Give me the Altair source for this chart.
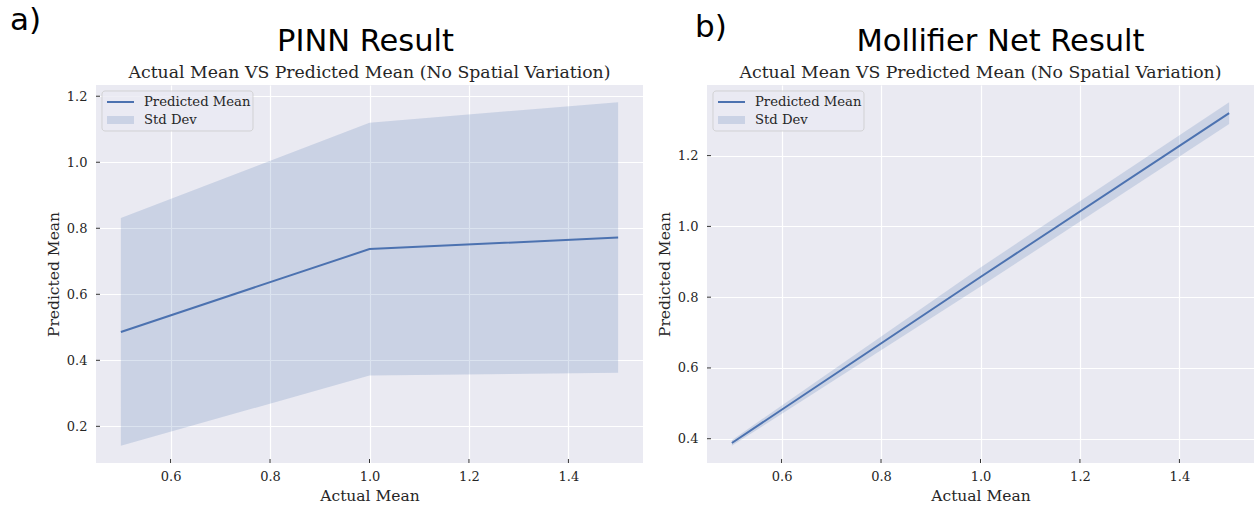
import altair as alt
import pandas as pd

# ---------------- data ----------------
x_vals = [0.5, 1.0, 1.5]
pinn_mean = [0.486, 0.737, 0.772]
pinn_std = [0.345, 0.383, 0.410]
moll_mean = [0.388, 0.857, 1.320]
moll_std = [0.008, 0.027, 0.031]

x_ticks = [0.6, 0.8, 1.0, 1.2, 1.4]
pinn_y_ticks = [0.2, 0.4, 0.6, 0.8, 1.0, 1.2]
moll_y_ticks = [0.4, 0.6, 0.8, 1.0, 1.2]

panel_letters = ["a)", "b)"]
panel_titles = ["PINN Result", "Mollifier Net Result"]
subtitle = "Actual Mean VS Predicted Mean (No Spatial Variation)"
legend_labels = ["Predicted Mean", "Std Dev"]
x_title = "Actual Mean"
y_title = "Predicted Mean"

# ---------------- style ----------------
BLUE = "#4C72B0"
BG = "#EAEAF2"
TXT = "#262626"
W, H = 547, 378
SERIF = "DejaVu Serif"
SANS = "DejaVu Sans"


def padded(lo, hi, frac=0.05):
    r = hi - lo
    return [lo - frac * r, hi + frac * r]


def panel(mean, std, yticks, letter, title, letter_x, letter_y, title_dx):
    lo = [m - s for m, s in zip(mean, std)]
    hi = [m + s for m, s in zip(mean, std)]
    df = pd.DataFrame({"x": x_vals, "mean": mean, "lo": lo, "hi": hi})
    xs = alt.Scale(domain=padded(min(x_vals), max(x_vals)), nice=False, zero=False)
    ys = alt.Scale(domain=padded(min(lo), max(hi)), nice=False, zero=False)
    xaxis = alt.Axis(values=x_ticks, format=".1f", title=x_title)
    yaxis = alt.Axis(values=yticks, format=".1f", title=y_title)

    band = alt.Chart(df).mark_area(color=BLUE, opacity=0.2).encode(
        x=alt.X("x:Q", scale=xs, axis=xaxis),
        y=alt.Y("lo:Q", scale=ys, axis=yaxis),
        y2="hi:Q",
    )
    line = alt.Chart(df).mark_line(color=BLUE, strokeWidth=2).encode(
        x=alt.X("x:Q", scale=xs, axis=xaxis),
        y=alt.Y("mean:Q", scale=ys, axis=yaxis),
    )
    # inward tick marks (matplotlib style), positioned by the scales
    xt = alt.Chart(pd.DataFrame({"x": x_ticks})).mark_rule(color="#333333", strokeWidth=1).encode(
        x=alt.X("x:Q", scale=xs, axis=xaxis),
        y=alt.value(H - 4),
        y2=alt.value(H),
    )
    yt = alt.Chart(pd.DataFrame({"lo": yticks})).mark_rule(color="#333333", strokeWidth=1).encode(
        y=alt.Y("lo:Q", scale=ys, axis=yaxis),
        x=alt.value(0),
        x2=alt.value(4),
    )

    # legend drawn in the axes corner
    ldf = pd.DataFrame({"label": legend_labels})
    first = f"datum.label == '{legend_labels[0]}'"
    second = f"datum.label == '{legend_labels[1]}'"
    box = alt.Chart(ldf).transform_filter(first).mark_rect(
        fill=BG, fillOpacity=0.8, stroke="#cccccc", strokeOpacity=0.8,
        strokeWidth=1, cornerRadius=3,
    ).encode(x=alt.value(6), x2=alt.value(157), y=alt.value(6), y2=alt.value(46))
    leg_line = alt.Chart(ldf).transform_filter(first).mark_rule(
        color=BLUE, strokeWidth=2
    ).encode(x=alt.value(11), x2=alt.value(38), y=alt.value(17))
    leg_patch = alt.Chart(ldf).transform_filter(second).mark_rect(
        color=BLUE, opacity=0.2
    ).encode(x=alt.value(11), x2=alt.value(38), y=alt.value(31), y2=alt.value(39))
    leg_t1 = alt.Chart(ldf).transform_filter(first).mark_text(
        align="left", baseline="middle", font=SERIF, fontSize=13.2, color=TXT
    ).encode(text="label:N", x=alt.value(48), y=alt.value(17))
    leg_t2 = alt.Chart(ldf).transform_filter(second).mark_text(
        align="left", baseline="middle", font=SERIF, fontSize=13.2, color=TXT
    ).encode(text="label:N", x=alt.value(48), y=alt.value(35))

    # panel letter, panel title and subtitle (placed relative to the plot area)
    tdf = pd.DataFrame({"letter": [letter], "title": [title], "sub": [subtitle]})
    letter_t = alt.Chart(tdf).mark_text(
        align="left", baseline="alphabetic", font=SANS, fontSize=31, color="black"
    ).encode(text="letter:N", x=alt.value(letter_x), y=alt.value(letter_y))
    title_t = alt.Chart(tdf).mark_text(
        align="center", baseline="alphabetic", font=SANS, fontSize=30.5, color="black"
    ).encode(text="title:N", x=alt.value(W / 2 + title_dx), y=alt.value(-34))
    sub_t = alt.Chart(tdf).mark_text(
        align="center", baseline="alphabetic", font=SERIF, fontSize=17.3, color=TXT
    ).encode(text="sub:N", x=alt.value(W / 2), y=alt.value(-7))

    return alt.layer(
        band, line, xt, yt, box, leg_line, leg_patch, leg_t1, leg_t2,
        letter_t, title_t, sub_t,
    ).properties(width=W, height=H)


left = panel(pinn_mean, pinn_std, pinn_y_ticks, panel_letters[0], panel_titles[0], -86, -55, -4)
right = panel(moll_mean, moll_std, moll_y_ticks, panel_letters[1], panel_titles[1], -12, -48, 20)

chart = (
    alt.hconcat(left, right, spacing=14)
    .properties(padding={"left": 10, "top": 5, "right": 0, "bottom": 0}, background="white")
    .configure_view(fill=BG, stroke=None)
    .configure_axis(
        gridColor="white",
        gridWidth=1.2,
        domain=False,
        ticks=False,
        tickSize=0,
        labelFont=SERIF,
        labelFontSize=13,
        labelColor=TXT,
        titleFont=SERIF,
        titleFontSize=15.5,
        titleFontWeight="normal",
        titleColor=TXT,
    )
    .configure_axisX(labelPadding=7, titlePadding=5)
    .configure_axisY(labelPadding=9, titlePadding=5)
)

chart.save("out.html", embed_options={"renderer": "svg", "actions": False})
